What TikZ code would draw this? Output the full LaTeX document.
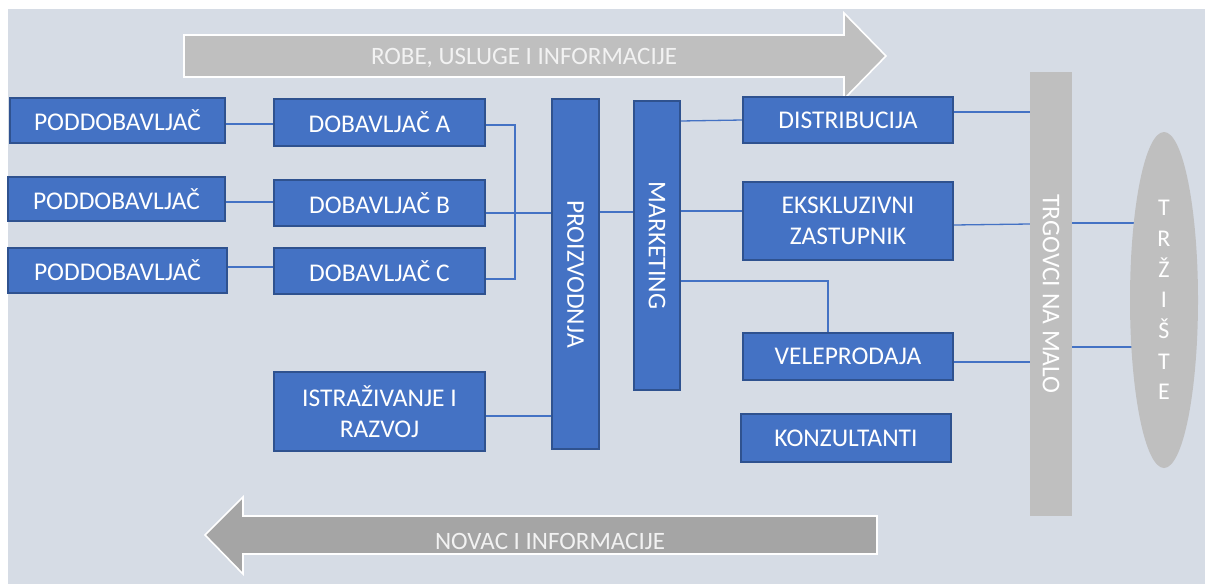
\documentclass[tikz,border=0pt]{standalone}
\usepackage{fontspec}
\setmainfont{Carlito}
\usetikzlibrary{shapes.geometric,calc}
\pgfdeclarelayer{bg}
\pgfdeclarelayer{background}
\pgfsetlayers{bg,background,main}
\definecolor{bgc}{HTML}{D6DCE5}
\definecolor{boxc}{HTML}{4472C4}
\definecolor{boxd}{HTML}{2F528F}
\definecolor{grayA}{HTML}{BFBFBF}
\definecolor{grayB}{HTML}{A5A5A5}
\definecolor{txt}{HTML}{F2F2F2}
\begin{document}
\begin{tikzpicture}[x=1pt,y=-1pt,
  bluebox/.style={draw=boxd, fill=boxc, line width=1.2pt, text=white, inner sep=0pt, align=center, font=\fontsize{25.5}{31}\selectfont},
  vlabel/.style={rotate=-90, text=white, inner sep=0pt, font=\fontsize{25.5}{31}\selectfont},
  conn/.style={draw=boxc, line width=1.3pt},
  flowarrow/.style={draw=white, line width=1.6pt, line join=miter},
  arrowtext/.style={text=txt, inner sep=0pt, font=\fontsize{25}{31}\selectfont}]
\useasboundingbox (0,0) rectangle (1205,584);
\begin{pgfonlayer}{bg}
\fill[white] (0,0) rectangle (1205,584);
\fill[bgc] (8,9) rectangle (1205,584);
\end{pgfonlayer}

% flow arrows
\draw[flowarrow, fill=grayA] (184,35) -- (844,35) -- (844,13) -- (886,56) -- (844,99) -- (844,77) -- (184,77) -- cycle;
\node[arrowtext] (robe) at (524,58) {ROBE, USLUGE I INFORMACIJE};
\draw[flowarrow, fill=grayB] (877,516) -- (243,516) -- (243,497) -- (205,535) -- (243,574) -- (243,554) -- (877,554) -- cycle;
\node[arrowtext] (novac) at (550,541) {NOVAC I INFORMACIJE};

% boxes
\node[bluebox, minimum width=215pt, minimum height=45pt] (p1) at (117.5,120.5) {PODDOBAVLJAČ};
\node[bluebox, minimum width=217pt, minimum height=44pt] (p2) at (116.5,199) {PODDOBAVLJAČ};
\node[bluebox, minimum width=219pt, minimum height=45pt] (p3) at (117.5,270.5) {PODDOBAVLJAČ};
\node[bluebox, minimum width=211pt, minimum height=47pt] (dA) at (379.5,122.5) {DOBAVLJAČ A};
\node[bluebox, minimum width=211pt, minimum height=46pt] (dB) at (379.5,203) {DOBAVLJAČ B};
\node[bluebox, minimum width=211pt, minimum height=46pt] (dC) at (379.5,271) {DOBAVLJAČ C};
\node[bluebox, minimum width=211pt, minimum height=79pt] (ir) at (379.5,411.5) {ISTRAŽIVANJE I\\RAZVOJ};
\node[bluebox, minimum width=47pt, minimum height=350pt, label={[vlabel]center:PROIZVODNJA}] (proiz) at (575.5,274) {};
\node[bluebox, minimum width=46pt, minimum height=289pt, label={[vlabel]center:MARKETING}] (mkt) at (657,245.5) {};
\node[bluebox, minimum width=210pt, minimum height=46pt] (dist) at (848,120) {DISTRIBUCIJA};
\node[bluebox, minimum width=210pt, minimum height=78pt] (eks) at (848,221) {EKSKLUZIVNI\\ZASTUPNIK};
\node[bluebox, minimum width=210pt, minimum height=47pt] (vel) at (848,356.5) {VELEPRODAJA};
\node[bluebox, minimum width=210pt, minimum height=48pt] (kon) at (846,438) {KONZULTANTI};
\node[fill=grayA, minimum width=42pt, minimum height=444pt, inner sep=0pt, label={[vlabel]center:TRGOVCI NA MALO}] (trg) at (1051,294) {};
\node[ellipse, fill=grayA, minimum width=68pt, minimum height=336pt, inner sep=0pt, text=white, align=center, font=\fontsize{24}{30.7}\selectfont] (trz) at (1164,300) {T\\R\\Ž\\I\\Š\\T\\E};

\coordinate (br) at (515,200);
\coordinate (vk) at (828,281);

% connectors
\begin{pgfonlayer}{background}
\draw[conn] (p1.east |- 0,124) -- (dA.west |- 0,124);
\draw[conn] (p2.east |- 0,202) -- (dB.west |- 0,202);
\draw[conn] (p3.east |- 0,267) -- (dC.west |- 0,267);
\draw[conn] (dA.east |- 0,125) -- (br |- 0,125) -- (br |- 0,279) -- (dC.east |- 0,279);
\draw[conn] (dB.east |- 0,213) -- (proiz.west |- 0,213);
\draw[conn] (ir.east |- 0,416) -- (proiz.west |- 0,416);
\draw[conn] (proiz.east |- 0,212) -- (mkt.west |- 0,212);
\draw[conn] (mkt.east |- 0,121) -- (dist.west |- 0,120);
\draw[conn] (mkt.east |- 0,211) -- (eks.west |- 0,211);
\draw[conn] (mkt.east |- vk) -- (vk) -- (vk |- vel.north);
\draw[conn] (dist.east |- 0,112) -- (trg.west |- 0,112);
\draw[conn] (eks.east |- 0,225) -- (trg.west |- 0,224);
\draw[conn] (vel.east |- 0,362) -- (trg.west |- 0,362);
\draw[conn] (trg.east |- 0,223) -- (trz.center |- 0,223);
\draw[conn] (trg.east |- 0,347) -- (trz.center |- 0,347);
\end{pgfonlayer}
\end{tikzpicture}
\end{document}
